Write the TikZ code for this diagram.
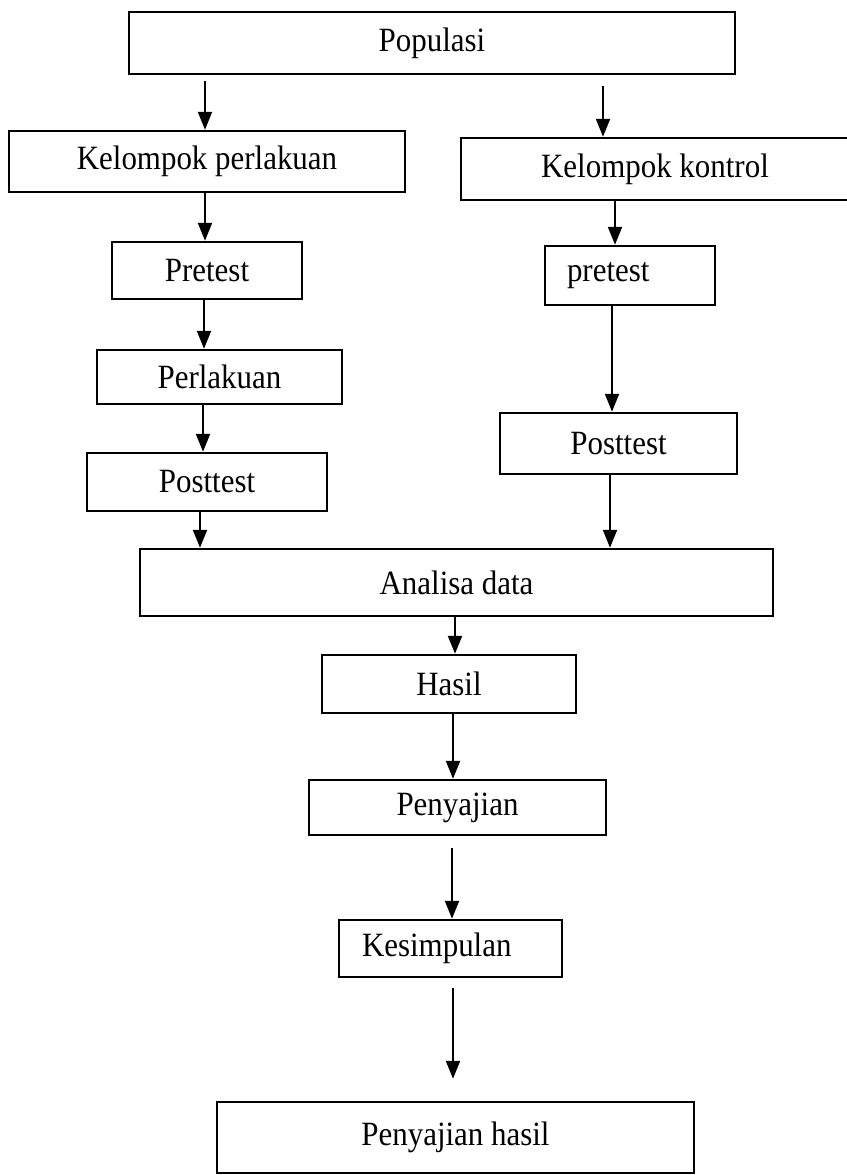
\documentclass[tikz,border=0pt]{standalone}
\usepackage{fontspec}
\setmainfont{Liberation Serif}[FakeStretch=0.91]
\usetikzlibrary{arrows.meta,calc}
\begin{document}
\begin{tikzpicture}[x=1pt,y=-1pt,
  box/.style={draw, line width=2.5pt, inner sep=0pt, font=\fontsize{34}{40}\selectfont, anchor=center},
  arr/.style={line width=2.2pt, -{Triangle[length=18pt,width=14pt]}}]
\useasboundingbox (0,0) rectangle (846,1175);
\node[box, minimum width=606pt, minimum height=62pt] (pop) at (432,43) {Populasi};
\node[box, minimum width=396pt, minimum height=61pt] (kp) at (207,161.5) {Kelompok perlakuan};
\node[box, minimum width=388pt, minimum height=62pt] (kk) at (655,169) {Kelompok kontrol};
\node[box, minimum width=190pt, minimum height=57pt] (pre1) at (207,270.5) {Pretest};
\node[box, minimum width=170pt, minimum height=59pt, inner xsep=22pt, text width=126pt, align=left] (pre2) at (630,275.5) {pretest};
\node[box, minimum width=245pt, minimum height=54pt] (perl) at (219.5,377) {Perlakuan};
\node[box, minimum width=240pt, minimum height=58pt] (postL) at (207,482) {Posttest};
\node[box, minimum width=237pt, minimum height=61pt] (postR) at (618.5,443.5) {Posttest};
\node[box, minimum width=633pt, minimum height=67pt] (ana) at (456.5,582.5) {Analisa data};
\node[box, minimum width=254pt, minimum height=58pt] (hasil) at (449,684) {Hasil};
\node[box, minimum width=297pt, minimum height=55pt] (peny) at (457.5,807.5) {Penyajian};
\node[box, minimum width=223pt, minimum height=57pt, inner xsep=23pt, text width=177pt, align=left] (kes) at (450.5,948.5) {Kesimpulan};
\node[box, minimum width=477pt, minimum height=71pt] (ph) at (455.5,1137.5) {Penyajian hasil};
% connectors
\draw[arr] ($(pop.south -| kp.north)+(-2,6)$) -- ($(kp.north)+(-2,0)$);
\draw[arr] ($(pop.south -| kk.north)+(-52,11)$) -- ($(kk.north)+(-52,0)$);
\draw[arr] ($(kp.south)+(-2,0)$) -- ($(pre1.north)+(-2,0)$);
\draw[arr] ($(kk.south -| pre2.north)+(-15,0)$) -- ($(pre2.north)+(-15,0)$);
\draw[arr] ($(pre1.south)+(-3,0)$) -- ($(pre1.south |- perl.north)+(-3,0)$);
\draw[arr] ($(perl.south -| postL.north)+(-4,0)$) -- ($(postL.north)+(-4,0)$);
\draw[arr] ($(postL.south)+(-7,0)$) -- ($(postL.south |- ana.north)+(-7,0)$);
\draw[arr] ($(pre2.south)+(-18,0)$) -- ($(pre2.south |- postR.north)+(-18,0)$);
\draw[arr] ($(postR.south)+(-8.5,0)$) -- ($(postR.south |- ana.north)+(-8.5,0)$);
\draw[arr] ($(ana.south -| hasil.north)+(6,0)$) -- ($(hasil.north)+(6,0)$);
\draw[arr] ($(hasil.south)+(4,0)$) -- ($(hasil.south |- peny.north)+(4,0)$);
\draw[arr] ($(peny.south)+(-5.5,12)$) -- ($(peny.south |- kes.north)+(-5.5,0)$);
\draw[arr] ($(kes.south)+(2.5,10)$) -- ($(kes.south |- ph.north)+(2.5,-22)$);
\end{tikzpicture}
\end{document}
